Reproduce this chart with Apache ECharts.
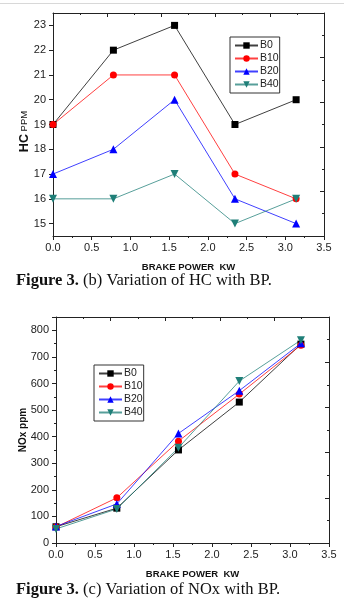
<!DOCTYPE html>
<html>
<head>
<meta charset="utf-8">
<script src="https://cdn.jsdelivr.net/npm/echarts@6/dist/echarts.min.js"></script>
<style>
  html, body { margin: 0; padding: 0; background: #fff; }
  #diagram { width: 344px; height: 600px; }
</style>
</head>
<body>
<div id="diagram"></div>
<script>
// brake power (kW) at the five load points
var bp = [0, 0.78, 1.57, 2.35, 3.14];

// HC (ppm)
var hcB0 = [19, 22, 23, 19, 20];
var hcB10 = [19, 21, 21, 17, 16];
var hcB20 = [17, 18, 20, 16, 15];
var hcB40 = [16, 16, 17, 15, 16];
var hcTicks = [15, 16, 17, 18, 19, 20, 21, 22, 23];

// NOx (ppm)
var noxB0 = [61, 131, 350, 530, 748];
var noxB10 = [60, 170, 383, 560, 744];
var noxB20 = [62, 147, 412, 573, 751];
var noxB40 = [53, 128, 358, 609, 763];

var names = ["B0", "B10", "B20", "B40"];
var colors = ["#000000", "#ff0000", "#0000ff", "#1f7f78"];
var symbols = ["rect", "circle", "triangle", "triangle"];
var rotates = [0, 0, 0, 180];
var sizes = [7, 7, 8, 8];

function pairs(ys) {
  return bp.map(function (x, i) { return [x, ys[i]]; });
}

var axisText = { fontFamily: "Liberation Sans", fontSize: 11, color: "#222" };
var lineStyle = { color: "#222", width: 1 };

function bottomX(grid) {
  return {
    gridIndex: grid, type: "value", min: 0, max: 3.5, interval: 0.5,
    axisLine: { onZero: false, lineStyle: lineStyle },
    axisTick: { inside: false, length: 4, lineStyle: lineStyle },
    minorTick: { show: true, splitNumber: 2, length: 2, lineStyle: lineStyle },
    splitLine: { show: false },
    axisLabel: Object.assign({ margin: 6, formatter: function (v) { return v.toFixed(1); } }, axisText),
    name: "BRAKE POWER  KW", nameLocation: "middle", nameGap: 26, nameMoveOverlap: false,
    nameTextStyle: { fontFamily: "Liberation Sans", fontWeight: "bold", fontSize: 9.5, color: "#111" }
  };
}

// ticks-only axes closing the frame on top and right
function frameAxis(grid, pos) {
  return {
    gridIndex: grid, type: "value", position: pos, min: 0, max: 10, interval: 2,
    axisLine: { onZero: false, lineStyle: lineStyle },
    axisTick: { inside: true, length: 4, lineStyle: lineStyle },
    minorTick: { show: true, splitNumber: 2, length: 2, lineStyle: lineStyle },
    splitLine: { show: false },
    axisLabel: { show: false }
  };
}

var series = [];
[hcB0, hcB10, hcB20, hcB40].forEach(function (d, i) {
  series.push({
    name: names[i], type: "line", xAxisIndex: 0, yAxisIndex: 0,
    data: pairs(d), symbol: symbols[i], symbolSize: sizes[i], symbolRotate: rotates[i],
    lineStyle: { color: colors[i], width: 1, opacity: 0.75 },
    itemStyle: { color: colors[i] }
  });
});
[noxB0, noxB10, noxB20, noxB40].forEach(function (d, i) {
  series.push({
    name: names[i], type: "line", xAxisIndex: 2, yAxisIndex: 2,
    data: pairs(d), symbol: symbols[i], symbolSize: sizes[i], symbolRotate: rotates[i],
    lineStyle: { color: colors[i], width: 1, opacity: 0.75 },
    itemStyle: { color: colors[i] }
  });
});

function legendAt(left, top) {
  return {
    left: left, top: top, orient: "vertical", data: names,
    itemWidth: 23, itemHeight: 8, itemGap: 2,
    padding: [3, 1, 3, 4],
    borderColor: "#333", borderWidth: 1, borderRadius: 0,
    textStyle: { fontFamily: "Liberation Sans", fontSize: 10.5, color: "#222", padding: [0, 0, 0, -3] },
    selectedMode: false
  };
}

var captionRich = {
  b: { fontFamily: "Liberation Serif", fontWeight: "bold", fontSize: 16.5, color: "#111" },
  n: { fontFamily: "Liberation Serif", fontWeight: "normal", fontSize: 16.5, color: "#111" }
};

var myChart = echarts.init(document.getElementById("diagram"));
var option = {
  animation: false,
  backgroundColor: "#fff",
  title: [
    { text: "{b|Figure 3.}{n| (b) Variation of HC with BP.}", left: 16, top: 272, padding: 0,
      textStyle: { fontWeight: "normal", rich: captionRich } },
    { text: "{b|Figure 3.}{n| (c) Variation of NOx with BP.}", left: 16, top: 581, padding: 0,
      textStyle: { fontWeight: "normal", rich: captionRich } }
  ],
  graphic: [
    { type: "rect", left: 0, top: 3, shape: { width: 344, height: 1 }, style: { fill: "#d8d8d8" } }
  ],
  legend: [legendAt(230, 37), legendAt(94, 365)],
  grid: [
    { left: 53, right: 20, top: 13, height: 223 },
    { left: 56, right: 15, top: 317, height: 226 }
  ],
  xAxis: [
    bottomX(0),
    frameAxis(0, "top"),
    bottomX(1),
    frameAxis(1, "top")
  ],
  yAxis: [
    {
      gridIndex: 0, type: "value", min: 14.5, max: 23.5,
      axisLine: { onZero: false, lineStyle: lineStyle },
      axisTick: { inside: false, length: 4, customValues: hcTicks, lineStyle: lineStyle },
      splitLine: { show: false },
      axisLabel: Object.assign({ margin: 7, customValues: hcTicks }, axisText),
      name: "{h|HC}{p| PPM}", nameLocation: "middle", nameGap: 22, nameMoveOverlap: false,
      nameTextStyle: {
        padding: [0, 14, 0, 0],
        rich: {
          h: { fontFamily: "Liberation Sans", fontWeight: "bold", fontSize: 12.5, color: "#111" },
          p: { fontFamily: "Liberation Sans", fontSize: 9.5, color: "#111" }
        }
      }
    },
    frameAxis(0, "right"),
    {
      gridIndex: 1, type: "value", min: 0, max: 850, interval: 100,
      axisLine: { onZero: false, lineStyle: lineStyle },
      axisTick: { inside: false, length: 4, lineStyle: lineStyle },
      minorTick: { show: true, splitNumber: 2, length: 2, lineStyle: lineStyle },
      splitLine: { show: false },
      axisLabel: Object.assign({ margin: 7, showMaxLabel: false }, axisText),
      name: "NOx ppm", nameLocation: "middle", nameGap: 28, nameMoveOverlap: false,
      nameTextStyle: { fontFamily: "Liberation Sans", fontWeight: "bold", fontSize: 10, color: "#111" }
    },
    frameAxis(1, "right")
  ],
  series: series
};
myChart.setOption(option);
</script>
</body>
</html>
